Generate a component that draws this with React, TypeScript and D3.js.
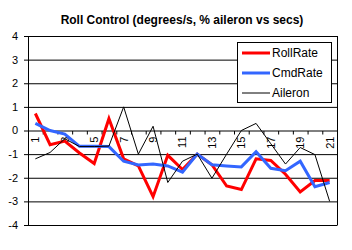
import React from "react";
import * as d3 from "d3";

const categories = ["1","2","3","4","5","6","7","8","9","10","11","12","13","14","15","16","17","18","19","20","21"];
const rollRate = [0.72, -0.6, -0.45, -0.95, -1.4, 0.5, -1.2, -1.5, -2.8, -1.05, -1.65, -1.0, -1.45, -2.35, -2.5, -1.2, -1.27, -1.85, -2.6, -2.12, -2.12];
const cmdRate = [0.3, 0.0, -0.15, -0.67, -0.67, -0.68, -1.3, -1.46, -1.42, -1.5, -1.76, -1.0, -1.45, -1.5, -1.54, -0.9, -1.6, -1.7, -1.3, -2.38, -2.2];
const aileron = [-1.2, -0.93, -0.35, -0.68, -0.68, -0.66, 1.0, -1.0, 0.18, -2.2, -1.3, -1.0, -2.02, -1.0, 0.0, 0.3, -0.56, -1.42, -0.72, -1.02, -3.0];
const yTicks = [4, 3, 2, 1, 0, -1, -2, -3, -4];
const seriesNames = ["RollRate", "CmdRate", "Aileron"];
const seriesColors = ["#FF0000", "#3366FF", "#000000"];
const seriesWidths = [3, 3, 1];

export default function App() {
  const W = 352, H = 250;
  const left = 28, right = 337, top = 36, bottom = 225;
  const x = d3.scaleBand<string>().domain(categories).range([left, right]).padding(0);
  const y = d3.scaleLinear().domain([-4, 4]).range([bottom, top]);
  const cx = (c: string) => (x(c) as number) + x.bandwidth() / 2;
  const allSeries = [rollRate, cmdRate, aileron];
  const line = d3.line<number>().x((_, i) => cx(categories[i])).y((d) => y(d));
  const font = "Arial, 'Liberation Sans', sans-serif";
  const y0 = y(0);
  const boundaries = categories.map((c) => x(c) as number).concat([right]);

  return (
    <svg width={W} height={H} style={{ position: "absolute", left: 0, top: 0, background: "#fff" }} fontFamily={font}>
      <rect x={0} y={0} width={W} height={H} fill="#fff" />
      <text x={182} y={24} textAnchor="middle" fontSize={12} fontWeight="bold">
        Roll Control (degrees/s, % aileron vs secs)
      </text>
      {yTicks.map((t) => (
        <g key={t}>
          <line x1={left - 4} x2={right} y1={y(t) + 0.5} y2={y(t) + 0.5} stroke="#000" strokeWidth={1} />
          <text x={18} y={y(t)} dy="0.36em" textAnchor="end" fontSize={11}>
            {t}
          </text>
        </g>
      ))}
      <line x1={left + 0.5} x2={left + 0.5} y1={top} y2={bottom + 0.5} stroke="#000" />
      <line x1={right + 0.5} x2={right + 0.5} y1={top} y2={bottom + 0.5} stroke="#000" />
      {boundaries.map((b, i) => (
        <line key={i} x1={b + 0.5} x2={b + 0.5} y1={y0 + 0.5} y2={y0 + 4} stroke="#000" />
      ))}
      {categories.map((c, i) =>
        i % 2 === 0 ? (
          <text
            key={c}
            transform={`translate(${cx(c)},${y0 + 6}) rotate(-90)`}
            textAnchor="end"
            dy="0.35em"
            fontSize={11}
          >
            {c}
          </text>
        ) : null
      )}
      {allSeries.map((s, k) => (
        <path
          key={k}
          d={line(s) as string}
          fill="none"
          stroke={seriesColors[k]}
          strokeWidth={seriesWidths[k]}
          strokeLinejoin="miter"
        />
      ))}
      <rect x={237.5} y={42.5} width={94} height={60} fill="#fff" stroke="#000" />
      {seriesNames.map((n, k) => (
        <g key={n}>
          <line x1={242} x2={270} y1={53 + k * 20} y2={53 + k * 20} stroke={seriesColors[k]} strokeWidth={seriesWidths[k]} />
          <text x={272} y={53 + k * 20} dy="0.36em" fontSize={12}>
            {n}
          </text>
        </g>
      ))}
    </svg>
  );
}
